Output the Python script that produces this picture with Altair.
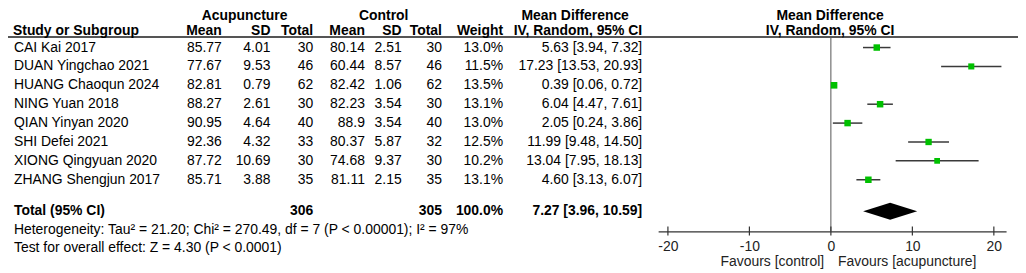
import altair as alt
import pandas as pd

# ---------------- data ----------------
studies = ["CAI Kai 2017", "DUAN Yingchao 2021", "HUANG Chaoqun 2024", "NING Yuan 2018",
           "QIAN Yinyan 2020", "SHI Defei 2021", "XIONG Qingyuan 2020", "ZHANG Shengjun 2017"]
acu_mean = [85.77, 77.67, 82.81, 88.27, 90.95, 92.36, 87.72, 85.71]
acu_sd = [4.01, 9.53, 0.79, 2.61, 4.64, 4.32, 10.69, 3.88]
acu_n = [30, 46, 62, 30, 40, 33, 30, 35]
ctl_mean = [80.14, 60.44, 82.42, 82.23, 88.9, 80.37, 74.68, 81.11]
ctl_sd = [2.51, 8.57, 1.06, 3.54, 3.54, 5.87, 9.37, 2.15]
ctl_n = [30, 46, 62, 30, 40, 32, 30, 35]
weight = [13.0, 11.5, 13.5, 13.1, 13.0, 12.5, 10.2, 13.1]
md = [5.63, 17.23, 0.39, 6.04, 2.05, 11.99, 13.04, 4.60]
ci_low = [3.94, 13.53, 0.06, 4.47, 0.24, 9.48, 7.95, 3.13]
ci_high = [7.32, 20.93, 0.72, 7.61, 3.86, 14.50, 18.13, 6.07]
total_acu_n = 306
total_ctl_n = 305
total_weight = 100.0
total_md = 7.27
total_low = 3.96
total_high = 10.59
heterogeneity = "Heterogeneity: Tau\u00b2 = 21.20; Chi\u00b2 = 270.49, df = 7 (P < 0.00001); I\u00b2 = 97%"
overall = "Test for overall effect: Z = 4.30 (P < 0.0001)"
tick_values = [-20, -10, 0, 10, 20]

# ---------------- layout ----------------
FONT = "Liberation Sans"
FS = 14
W, H = 1016, 224
ROW_PX = 19.0
ROW0 = 39.0
TY = 203.7
TOTAL_ROW = (TY - ROW0) / ROW_PX
HALF_DIAMOND = 8.5 / ROW_PX

yscale = alt.Scale(domain=[-ROW0 / ROW_PX, (H - ROW0) / ROW_PX], reverse=True, nice=False, zero=False)
xscale = alt.Scale(domain=[-21.2, 21.5], range=[654, 1004], nice=False, zero=False)
xaxis = alt.Axis(values=tick_values, ticks=False, grid=False, domain=True, domainColor="#333333",
                 domainWidth=1.2, labelFont=FONT, labelFontSize=FS, labelColor="#222222",
                 labelPadding=8, title=None,
                 labelExpr="replace(datum.label, '\u2212', '-')")


def Y(field="row"):
    return alt.Y(f"{field}:Q", scale=yscale, axis=None)


def X(field):
    return alt.X(f"{field}:Q", scale=xscale, axis=xaxis)


rows = list(range(len(studies)))
df = pd.DataFrame({
    "row": rows, "study": studies,
    "am": [str(v) for v in acu_mean], "asd": [str(v) for v in acu_sd], "an": [str(v) for v in acu_n],
    "cm": [str(v) for v in ctl_mean], "csd": [str(v) for v in ctl_sd], "cn": [str(v) for v in ctl_n],
    "w": weight, "wl": [f"{v:.1f}%" for v in weight],
    "md": md, "lo": ci_low, "hi": ci_high,
    "ci": [f"{m:.2f} [{l:.2f}, {h:.2f}]" for m, l, h in zip(md, ci_low, ci_high)],
})
dummy = pd.DataFrame({"a": [0]})


def col_text(field, x, align):
    return alt.Chart(df).mark_text(align=align, baseline="middle", font=FONT, fontSize=FS,
                                   color="#000000").encode(x=alt.value(x), y=Y(), text=f"{field}:N")


def label(txt, x, y, align="left", bold=False, color="#000000", baseline="middle"):
    return alt.Chart(dummy).mark_text(text=txt, align=align, baseline=baseline, font=FONT, fontSize=FS,
                                      fontWeight="bold" if bold else "normal",
                                      color=color).encode(x=alt.value(x), y=alt.value(y))


layers = []

# forest plot marks
zero_line = alt.Chart(dummy).mark_rule(color="#555555", strokeWidth=1).encode(
    x=alt.X(datum=0, scale=xscale, axis=xaxis), y=alt.value(29), y2=alt.value(H))
ticks = alt.Chart(pd.DataFrame({"t": tick_values})).mark_rule(color="#333333", strokeWidth=1.2).encode(
    x=X("t"), y=alt.value(H - 5), y2=alt.value(H + 4))
ci_lines = alt.Chart(df).mark_rule(color="#3a3a3a", strokeWidth=1.5).encode(
    x=X("lo"), x2="hi:Q", y=Y())
squares = alt.Chart(df).mark_square(color="#00c000", opacity=1).encode(
    x=X("md"), y=Y(),
    size=alt.Size("w:Q", scale=alt.Scale(domain=[0, 13.5], range=[0, 44]), legend=None))

diamond_df = pd.DataFrame({
    "x": [total_low, total_md, total_high],
    "top": [TOTAL_ROW, TOTAL_ROW - HALF_DIAMOND, TOTAL_ROW],
    "bot": [TOTAL_ROW, TOTAL_ROW + HALF_DIAMOND, TOTAL_ROW],
})
diamond = alt.Chart(diamond_df).mark_area(color="#000000", orient="vertical").encode(
    x=X("x"), y=Y("top"), y2="bot:Q")

layers += [zero_line, ticks, ci_lines, squares, diamond]

# header line
underline = alt.Chart(dummy).mark_rule(color="#555555", strokeWidth=2).encode(
    x=alt.value(0), x2=alt.value(W), y=alt.value(28.5))
layers.append(underline)

# table columns
layers += [
    col_text("study", 6, "left"),
    col_text("am", 215, "right"),
    col_text("asd", 264, "right"),
    col_text("an", 307, "right"),
    col_text("cm", 359, "right"),
    col_text("csd", 396, "right"),
    col_text("cn", 436.5, "right"),
    col_text("wl", 498, "right"),
    col_text("ci", 638, "right"),
]

# headers
HY1, HY2 = 0, 22.5
layers += [
    label("Acupuncture", 238, HY1, "center", True, baseline="top"),
    label("Control", 378, HY1, "center", True, baseline="top"),
    label("Mean Difference", 570.5, HY1, "center", True, baseline="top"),
    label("Mean Difference", 827, HY1, "center", True, baseline="top"),
    label("Study or Subgroup", 5, HY2, "left", True),
    label("Mean", 215, HY2, "right", True),
    label("SD", 264, HY2, "right", True),
    label("Total", 307, HY2, "right", True),
    label("Mean", 359, HY2, "right", True),
    label("SD", 396, HY2, "right", True),
    label("Total", 436.5, HY2, "right", True),
    label("Weight", 498, HY2, "right", True),
    label("IV, Random, 95% CI", 638, HY2, "right", True),
    label("IV, Random, 95% CI", 827, HY2, "center", True),
]

# total row and footers
layers += [
    label("Total (95% CI)", 6, TY, "left", True),
    label(str(total_acu_n), 307, TY, "right", True),
    label(str(total_ctl_n), 436.5, TY, "right", True),
    label(f"{total_weight:.1f}%", 498, TY, "right", True),
    label(f"{total_md:.2f} [{total_low:.2f}, {total_high:.2f}]", 638, TY, "right", True),
    label(heterogeneity, 6, 223, "left"),
    label(overall, 6, 241, "left"),
    label("Favours [control]", 821, 255, "right", color="#222222"),
    label("Favours [acupuncture]", 835, 255, "left", color="#222222"),
]

chart = alt.layer(*layers).properties(
    width=W, height=H,
    padding={"left": 0, "top": 0, "right": 0, "bottom": 38},
    autosize=alt.AutoSizeParams(type="none"),
).configure_view(stroke=None)

chart.save("out.html", embed_options={"renderer": "svg", "actions": False})
